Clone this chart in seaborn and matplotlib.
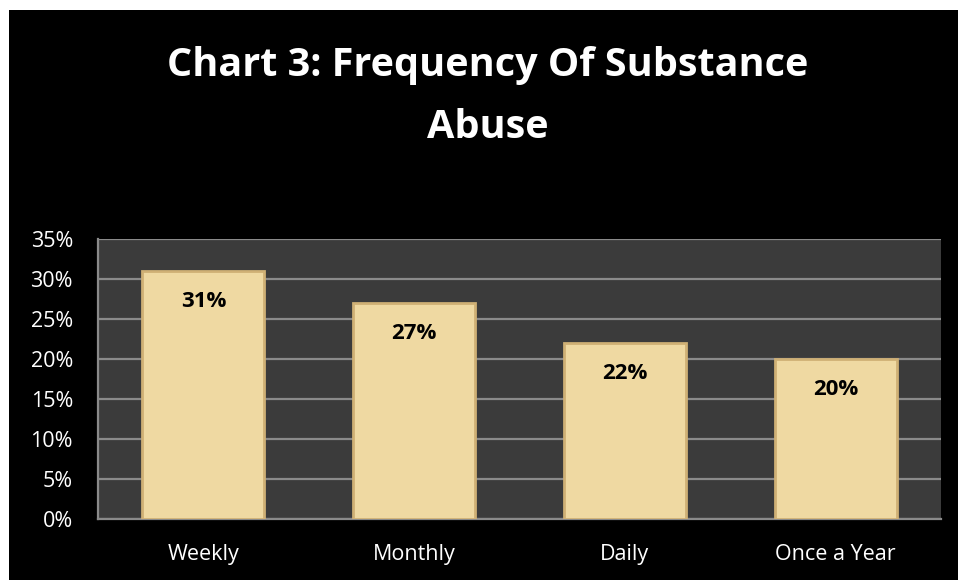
""" Chart 3: frequency of substance abuse """

import matplotlib.pyplot as plt
import matplotlib.patches as mpatches
import pandas as pd
import seaborn as sns

# data
categories = ["Weekly", "Monthly", "Daily", "Once a Year"]
shares = [31, 27, 22, 20]
y_ticks = [0, 5, 10, 15, 20, 25, 30, 35]
y_tick_labels = [f"{t}%" for t in y_ticks]
title_lines = ["Chart 3: Frequency Of Substance", "Abuse"]

df = pd.DataFrame({"frequency": categories, "share": shares})

sns.set_style("dark")
plt.rcParams["font.family"] = ["Open Sans", "DejaVu Sans"]

fig = plt.figure(figsize=(9.58, 5.8), dpi=100, facecolor="white")

# black panel with a thin white margin at the top and left
fig.patches.append(mpatches.Rectangle(
    (9 / 958, 0), 1, 1 - 10 / 580, transform=fig.transFigure,
    facecolor="black", edgecolor="none", zorder=-10))

ax = fig.add_axes([98 / 958, 61 / 580, 843 / 958, 280 / 580])
ax.set_facecolor("#3b3b3b")

sns.barplot(data=df, x="frequency", y="share", color="#efd9a2",
            width=0.58, saturation=1, ax=ax, zorder=3,
            edgecolor="#cfb075", linewidth=2)

ax.set_ylim(0, 35)
ax.set_yticks(y_ticks)
ax.set_yticklabels(y_tick_labels)
ax.set_xlabel("")
ax.set_ylabel("")
ax.grid(axis="y", color="#8a8a8a", linewidth=1.6, zorder=1)
ax.grid(axis="x", visible=False)
ax.set_axisbelow(True)

for side in ["top", "right"]:
    ax.spines[side].set_visible(False)
for side in ["left", "bottom"]:
    ax.spines[side].set_visible(True)
    ax.spines[side].set_color("#8a8a8a")
    ax.spines[side].set_linewidth(1.6)

ax.tick_params(axis="y", length=0, pad=18, labelsize=15.5, labelcolor="white")
ax.tick_params(axis="x", length=0, pad=18, labelsize=15.5, labelcolor="white")

# value labels inside the bars
for i, value in enumerate(shares):
    ax.annotate(f"{value}%", (i, value), xytext=(0, -22),
                textcoords="offset points", ha="center", va="center",
                fontsize=16, fontweight="bold", color="black", zorder=5)

# two-line title
for line, base_px in zip(title_lines, [76, 138]):
    fig.text(488 / 958, 1 - base_px / 580, line, ha="center", va="baseline",
             fontsize=28.5, fontweight="bold", color="white")

plt.savefig("out.png", dpi=100, facecolor=fig.get_facecolor())
